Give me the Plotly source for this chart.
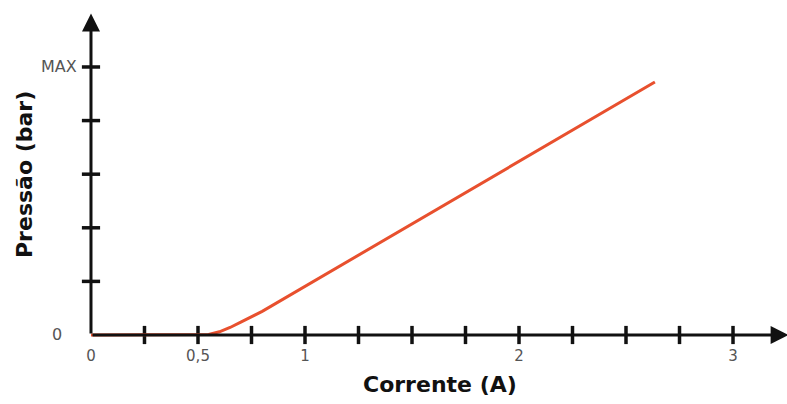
import plotly.graph_objects as go

# Data
corrente = [0.0, 0.5, 0.55, 0.6, 0.65, 0.7, 0.75, 0.8, 2.635]
pressao = [0.0, 0.0, 0.01, 0.06, 0.14, 0.24, 0.34, 0.44, 4.72]

x_ticks = [0.25, 0.5, 0.75, 1.0, 1.25, 1.5, 1.75, 2.0, 2.25, 2.5, 2.75, 3.0]
y_ticks = [1, 2, 3, 4, 5]
x_tick_vals = [0, 0.5, 1, 2, 3]
x_tick_text = ["0", "0,5", "1", "2", "3"]
y_label_vals = [0, 5]
y_label_text = ["0", "MAX"]

x_range = [-0.0981, 3.2523]
y_range = [-0.1866, 6.063]
x_arrow_end = 3.26
y_arrow_end = 6.0

FONT = "DejaVu Sans"
L, R, T, B = 70, 0, 10, 59
W, H = 787, 404
PW, PH = W - L - R, H - T - B

fig = go.Figure()

# Tick marks crossing the axes
fig.add_trace(go.Scatter(
    x=x_ticks, y=[0] * len(x_ticks), mode="markers",
    marker=dict(symbol="line-ns", size=13, line=dict(color="#111", width=3.5)),
    hoverinfo="skip", showlegend=False, cliponaxis=False))
fig.add_trace(go.Scatter(
    x=[0] * len(y_ticks), y=y_ticks, mode="markers",
    marker=dict(symbol="line-ew", size=13, line=dict(color="#111", width=3.5)),
    hoverinfo="skip", showlegend=False, cliponaxis=False))

# Axis arrows
fig.add_annotation(x=x_arrow_end, y=0, ax=0, ay=0, xref="x", yref="y", axref="x", ayref="y",
                   text="", showarrow=True, arrowhead=2, arrowsize=1.2, arrowwidth=3, arrowcolor="#111")
fig.add_annotation(x=0, y=y_arrow_end, ax=0, ay=0, xref="x", yref="y", axref="x", ayref="y",
                   text="", showarrow=True, arrowhead=2, arrowsize=1.2, arrowwidth=3, arrowcolor="#111")

# Curve
fig.add_trace(go.Scatter(
    x=corrente, y=pressao, mode="lines",
    line=dict(color="#E8502E", width=3), hoverinfo="skip", showlegend=False, cliponaxis=False))

# Y labels (right edges in pixels)
y_px = lambda v: (v - y_range[0]) / (y_range[1] - y_range[0])
for v, t, xr in zip(y_label_vals, y_label_text, [64, 79]):
    fig.add_annotation(x=(xr - L) / PW, y=y_px(v), xref="paper", yref="paper", text=t,
                       showarrow=False, xanchor="right", yanchor="middle",
                       font=dict(family=FONT, size=16, color="#555"))

# Axis titles
fig.add_annotation(xref="paper", yref="paper", x=(440 - L) / PW, y=(H - B - 385) / PH,
                   text="<b>Corrente (A)</b>", showarrow=False,
                   xanchor="center", yanchor="middle",
                   font=dict(family=FONT, size=22, color="#111"))
fig.add_annotation(xref="paper", yref="paper", x=(24 - L) / PW, y=(H - B - 175) / PH,
                   text="<b>Pressão (bar)</b>", textangle=-90, showarrow=False,
                   xanchor="center", yanchor="middle",
                   font=dict(family=FONT, size=22, color="#111"))

fig.update_layout(
    width=W, height=H,
    margin=dict(l=L, r=R, t=T, b=B, autoexpand=False),
    plot_bgcolor="white", paper_bgcolor="white",
    xaxis=dict(range=x_range, showgrid=False, zeroline=False, showline=False,
               tickvals=x_tick_vals, ticktext=x_tick_text, ticks="",
               tickfont=dict(family=FONT, size=15, color="#555")),
    yaxis=dict(range=y_range, showgrid=False, zeroline=False, showline=False,
               showticklabels=False, ticks=""),
)

fig.write_html("out.html", config={"displayModeBar": False},
               post_script="document.body.style.margin='0';document.body.style.overflow='hidden';")
